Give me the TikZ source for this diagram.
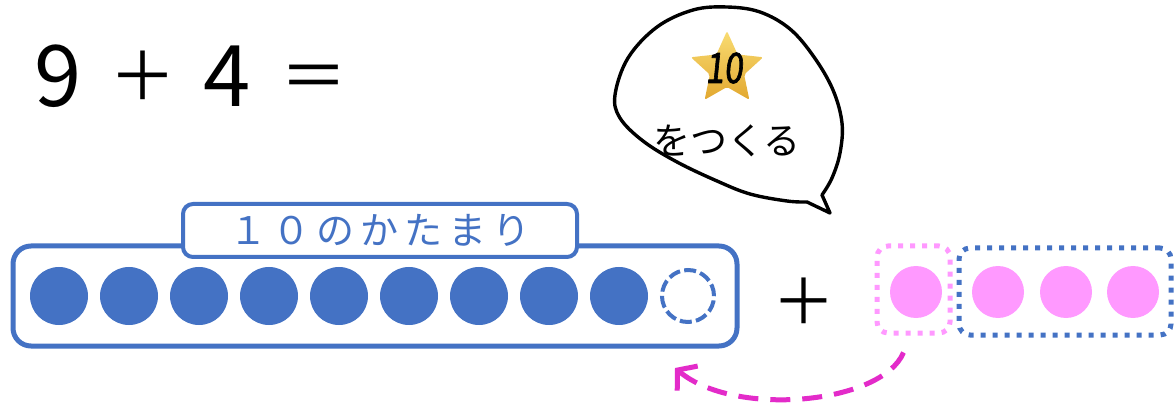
\documentclass[tikz,border=0pt]{standalone}
\usepackage{fontspec}
\newfontfamily\jp{Noto Sans CJK JP}
\usetikzlibrary{shapes.geometric,arrows.meta}
\definecolor{tenblue}{HTML}{4472C4}
\definecolor{dotpink}{HTML}{FF99FF}
\definecolor{arrowmag}{HTML}{E32BC9}
\definecolor{starlight}{HTML}{F9DC72}
\definecolor{stardark}{HTML}{E2A830}
\begin{document}
\begin{tikzpicture}[x=1pt,y=-1pt,
  bluedot/.style={circle, fill=tenblue, minimum size=58pt, inner sep=0pt},
  pinkdot/.style={circle, fill=dotpink, minimum size=52pt, inner sep=0pt},
  dotbox/.style={line width=5pt, dash pattern=on 5pt off 7pt, rounded corners=11pt, inner sep=0pt},
  plaintext/.style={inner sep=0pt, anchor=base}]
\fill[white] (0,0) rectangle (1176,406);
\useasboundingbox (0,0) rectangle (1176,406);

% equation
\node[plaintext, anchor=base west, font=\jp\fontsize{85}{100}\selectfont] (equation) at (34.5,107)
  {9\hskip28pt\raisebox{6pt}{\fontsize{67}{70}\selectfont ＋}\hskip27pt 4\hskip29pt\raisebox{6pt}{\fontsize{67}{70}\selectfont ＝}};

% speech bubble
\draw[line width=3.4pt, fill=white, line join=round]
  plot[smooth, tension=0.6] coordinates {(807,202) (787,201) (750,194) (717,181) (677,162) (643,141) (620,118) (615,95) (628,58) (657,27) (693,10) (727,7) (760,12) (790,29) (814,57) (833,90) (842,123) (840,153) (832,178) (822,195)}
  -- (830,213) -- cycle;
\begin{scope}[shift={(727,69)}]
\shade[top color=starlight, bottom color=stardark, rounded corners=2pt]
  (-90:38) -- (-54:18) -- (-18:38) -- (18:18) -- (54:38) -- (90:18) -- (126:38) -- (162:18) -- (198:38) -- (234:18) -- cycle;
\end{scope}
\node[plaintext, font=\jp\addfontfeature{FakeStretch=0.8,FakeSlant=0.1,FakeBold=1.5}\fontsize{42}{50}\selectfont] (ten) at (724,83) {10};
\node[plaintext, font=\jp\fontsize{37}{44}\selectfont] (tsukuru) at (727,155) {をつくる};

% ten box
\node[draw=tenblue, line width=5pt, rounded corners=18pt, minimum width=724pt, minimum height=100pt, inner sep=0pt] (tenbox) at (375,296) {};
\node[draw=tenblue, fill=white, line width=4pt, rounded corners=10pt, minimum width=394pt, minimum height=53pt, inner sep=0pt] (labelbox) at (380,230.5) {};
\node[plaintext, text=tenblue, font=\jp\fontsize{38}{44}\selectfont] (labeltext) at (380,245) {１\hskip6pt ０\hskip6pt の\hskip6pt か\hskip6pt た\hskip6pt ま\hskip6pt り};
\foreach \i in {0,...,8} \node[bluedot] (b\i) at (59+70*\i,296) {};
\node[circle, draw=tenblue, line width=4pt, dash pattern=on 12pt off 4.3pt, minimum size=52pt, inner sep=0pt] (slot) at (688,296) {};

% plus
\node[plaintext, font=\jp\fontsize{63}{70}\selectfont] (plus) at (804,324) {＋};

% four
\node[dotbox, draw=dotpink, minimum width=73pt, minimum height=87pt] (pinkbox) at (913.5,289.5) {};
\node[dotbox, draw=tenblue, minimum width=212pt, minimum height=87pt] (bluebox) at (1065,291.5) {};
\node[pinkdot] (p1) at (916,292) {};
\node[pinkdot] (p2) at (998,292) {};
\node[pinkdot] (p3) at (1066,292) {};
\node[pinkdot] (p4) at (1133,292) {};

% arrow
\coordinate (arrowStart) at ([shift={(-10,17)}]pinkbox.south);
\coordinate (arrowEnd) at ([shift={(-13,72)}]slot.center);
\draw[arrowmag, line width=5pt, dash pattern=on 20pt off 12pt, -{Straight Barb[length=13pt,width=32pt]}]
  (arrowStart) .. controls (882,404) and (735,418) .. (arrowEnd);
\end{tikzpicture}
\end{document}
